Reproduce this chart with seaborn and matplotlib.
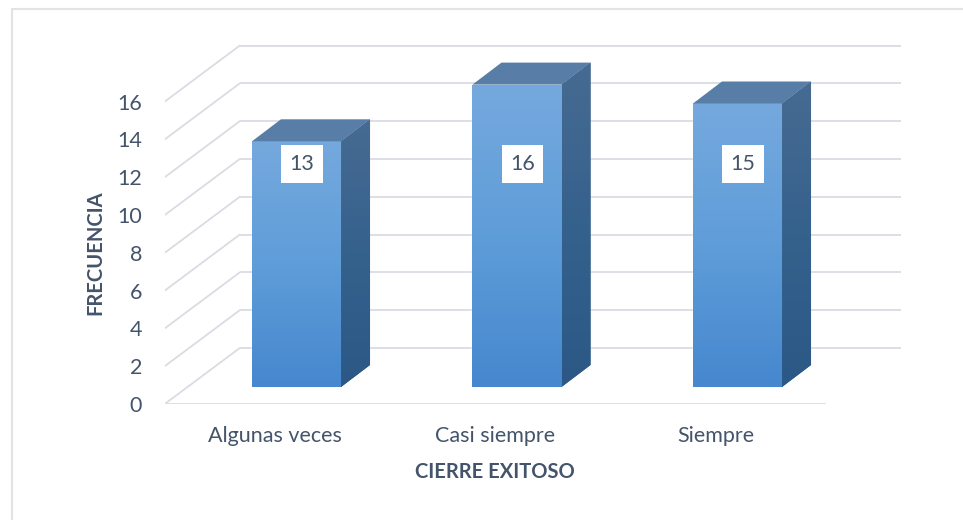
import numpy as np
import matplotlib
matplotlib.use('Agg')
import matplotlib.pyplot as plt
from matplotlib.patches import Polygon
from matplotlib.colors import LinearSegmentedColormap
from matplotlib.lines import Line2D
import seaborn as sns
import pandas as pd

categories = ["Algunas veces", "Casi siempre", "Siempre"]
values = [13, 16, 15]
y_ticks = [0, 2, 4, 6, 8, 10, 12, 14, 16]
x_title = "CIERRE EXITOSO"
y_title = "FRECUENCIA"

sns.set_theme(style="white")
plt.rcParams['font.family'] = ['Lato', 'DejaVu Sans']

TEXT = '#44546a'
GRID = '#d9dce3'
FS = 15.5
FS_TITLE = 14.5

W, H = 963, 520
fig = plt.figure(figsize=(W / 100, H / 100), dpi=100)

# projection geometry (pixels per category / per value unit)
PXC = 220.5
PXV = 18.9
bar_px0 = 296.5
base_py = 387
ax_left_px, ax_right_px, ax_top_px, ax_bot_px = 164.7, 905, 30, 404
ax = fig.add_axes([ax_left_px / W, 1 - ax_bot_px / H,
                   (ax_right_px - ax_left_px) / W, (ax_bot_px - ax_top_px) / H])
xlim = ((ax_left_px - bar_px0) / PXC, (ax_right_px - bar_px0) / PXC)
ylim = ((base_py - ax_bot_px) / PXV, (base_py - ax_top_px) / PXV)

front = (-21.5 / PXC, -17 / PXV)
back = (53.5 / PXC, 39 / PXV)
depth = (29 / PXC, 22 / PXV)
n = len(categories)

# walls / gridlines
for v in y_ticks:
    ax.plot([-0.5 + back[0], n - 0.5 + back[0]], [v + back[1]] * 2,
            color=GRID, lw=1.3, zorder=0.5, solid_capstyle='butt')
    ax.plot([-0.5 + front[0], -0.5 + back[0]], [v + front[1], v + back[1]],
            color=GRID, lw=1.3, zorder=0.5)
ax.plot([-0.5 + front[0], n - 0.5 + front[0]], [front[1]] * 2,
        color=GRID, lw=1.3, zorder=0.5, solid_capstyle='butt')

df = pd.DataFrame({"cat": categories, "val": values})
sns.barplot(data=df, x="cat", y="val", color="#5b9bd5", width=0.404,
            ax=ax, zorder=2, saturation=1)

front_cmap = LinearSegmentedColormap.from_list("f", ["#4687ce", "#5f9dd9", "#75a9de"])
side_cmap = LinearSegmentedColormap.from_list("s", ["#2b5885", "#35618d", "#476b92"])
grad = np.linspace(0, 1, 256).reshape(-1, 1)

for p in list(ax.patches):
    x0 = p.get_x()
    w = p.get_width()
    h = p.get_height()
    x1 = x0 + w
    im = ax.imshow(grad, extent=[x0, x1, 0, h], origin='lower', cmap=front_cmap,
                   aspect='auto', zorder=2.1, interpolation='bilinear')
    im.set_clip_path(p)
    side = Polygon([(x1, 0), (x1 + depth[0], depth[1]), (x1 + depth[0], h + depth[1]), (x1, h)],
                   closed=True, facecolor='#36608b', edgecolor='none', zorder=2)
    ax.add_patch(side)
    ims = ax.imshow(grad, extent=[x1, x1 + depth[0], 0, h + depth[1]], origin='lower',
                    cmap=side_cmap, aspect='auto', zorder=2.1, interpolation='bilinear')
    ims.set_clip_path(side)
    top = Polygon([(x0, h), (x1, h), (x1 + depth[0], h + depth[1]), (x0 + depth[0], h + depth[1])],
                  closed=True, facecolor='#587ea8', edgecolor='none', zorder=2.2)
    ax.add_patch(top)

label_y = 11.8
for i, v in enumerate(values):
    ax.text(i + 0.025, label_y, str(v), ha='center', va='center', fontsize=FS,
            color=TEXT, zorder=5,
            bbox=dict(facecolor='white', edgecolor='none', boxstyle='square,pad=0.4'))

ax.set_xticks([i + front[0] for i in range(n)], categories)
ax.set_yticks([v + front[1] for v in y_ticks], [str(v) for v in y_ticks])
ax.tick_params(axis='both', length=0, labelsize=FS, colors=TEXT)
ax.tick_params(axis='x', pad=15.5)
ax.tick_params(axis='y', pad=16.3)

ax.set_xlabel(x_title, fontsize=FS_TITLE, fontweight='bold', color=TEXT)
ax.xaxis.set_label_coords(0.4455, -0.182)
ax.xaxis.label.set_va('center')
ax.set_ylabel(y_title, fontsize=FS_TITLE, fontweight='bold', color=TEXT)
ax.yaxis.set_label_coords(-0.094, 0.405)
ax.yaxis.label.set_va('center')

for s in ax.spines.values():
    s.set_visible(False)
ax.grid(False)
ax.set_xlim(*xlim)
ax.set_ylim(*ylim)

# chart border (left and top visible)
bx, by = 12 / W, 1 - 9 / H
fig.add_artist(Line2D([bx, bx], [0, by], transform=fig.transFigure, color='#e1e3e7', lw=1.5))
fig.add_artist(Line2D([bx, 1], [by, by], transform=fig.transFigure, color='#e1e3e7', lw=1.5))

fig.savefig("out.png", dpi=100)
